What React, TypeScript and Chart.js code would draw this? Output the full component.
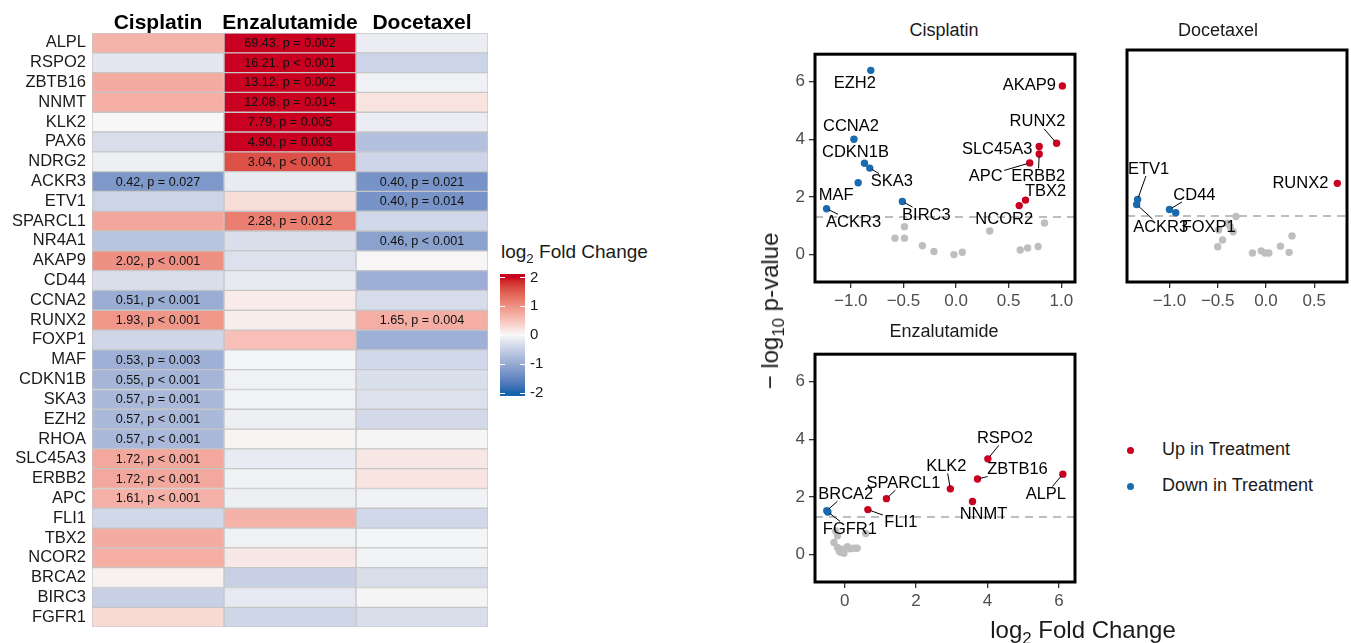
import React, { useEffect, useRef } from "react";
import { Chart, registerables } from "chart.js";

Chart.register(...registerables);

const FONT = "'Liberation Sans', Arial, Helvetica, sans-serif";

// ---------------- Heatmap data ----------------
const genes = ["ALPL", "RSPO2", "ZBTB16", "NNMT", "KLK2", "PAX6", "NDRG2", "ACKR3", "ETV1", "SPARCL1", "NR4A1", "AKAP9", "CD44", "CCNA2", "RUNX2", "FOXP1", "MAF", "CDKN1B", "SKA3", "EZH2", "RHOA", "SLC45A3", "ERBB2", "APC", "FLI1", "TBX2", "NCOR2", "BRCA2", "BIRC3", "FGFR1"];
const treatments = ["Cisplatin", "Enzalutamide", "Docetaxel"];
const cisplatinLog2FC = [0.66, -0.2, 0.75, 0.72, 0.0, -0.32, -0.1, -1.25, -0.45, 0.8, -0.65, 1.01, -0.3, -0.97, 0.95, -0.42, -0.92, -0.86, -0.81, -0.81, -0.81, 0.78, 0.78, 0.69, -0.4, 0.74, 0.72, 0.06, -0.5, 0.3];
const enzalutamideLog2FC = [6.12, 4.02, 3.71, 3.59, 2.96, 2.29, 1.6, -0.15, 0.25, 1.19, -0.3, -0.28, -0.17, 0.12, 0.1, 0.55, -0.03, -0.08, -0.05, -0.1, 0.03, -0.15, -0.08, -0.1, 0.68, -0.08, 0.15, -0.5, -0.18, -0.42];
const docetaxelLog2FC = [-0.13, -0.45, -0.08, 0.2, -0.13, -0.7, -0.43, -1.32, -1.32, -0.4, -1.12, 0.02, -0.95, -0.35, 0.72, -0.93, -0.4, -0.3, -0.28, -0.38, -0.02, 0.15, 0.18, -0.06, -0.4, -0.03, -0.05, -0.32, -0.02, -0.32];
const cisplatinCellText = ["", "", "", "", "", "", "", "0.42, p = 0.027", "", "", "", "2.02, p < 0.001", "", "0.51, p < 0.001", "1.93, p < 0.001", "", "0.53, p = 0.003", "0.55, p < 0.001", "0.57, p = 0.001", "0.57, p < 0.001", "0.57, p < 0.001", "1.72, p < 0.001", "1.72, p < 0.001", "1.61, p < 0.001", "", "", "", "", "", ""];
const enzalutamideCellText = ["69.43, p = 0.002", "16.21, p < 0.001", "13.12, p = 0.002", "12.08, p = 0.014", "7.79, p = 0.005", "4.90, p = 0.003", "3.04, p < 0.001", "", "", "2.28, p = 0.012", "", "", "", "", "", "", "", "", "", "", "", "", "", "", "", "", "", "", "", ""];
const docetaxelCellText = ["", "", "", "", "", "", "", "0.40, p = 0.021", "0.40, p = 0.014", "", "0.46, p < 0.001", "", "", "", "1.65, p = 0.004", "", "", "", "", "", "", "", "", "", "", "", "", "", "", ""];
const colorbarTicks = [2, 1, 0, -1, -2];
const colorbarTickLabels = ["2", "1", "0", "-1", "-2"];
const colorbarRange = [-2.12, 2.12];

// ---------------- Volcano data ----------------
const significanceLine = 1.3;
const volcanoYTicks = [0, 2, 4, 6];
const volcanoYTickLabels = ["0", "2", "4", "6"];

const cisplatinGenes = ["EZH2", "AKAP9", "RUNX2", "SLC45A3", "ERBB2", "APC", "TBX2", "NCOR2", "CCNA2", "CDKN1B", "SKA3", "MAF", "ACKR3", "BIRC3", "", "", "", "", "", "", "", "", "", "", "", ""];
const cisplatinFC = [-0.81, 1.01, 0.955, 0.79, 0.79, 0.7, 0.66, 0.6, -0.97, -0.87, -0.82, -0.93, -1.23, -0.51, -0.49, -0.58, -0.49, -0.32, -0.21, -0.02, 0.06, 0.32, 0.61, 0.68, 0.78, 0.84];
const cisplatinNegLog10P = [6.39, 5.85, 3.86, 3.75, 3.49, 3.18, 1.89, 1.7, 4.0, 3.17, 3.0, 2.49, 1.59, 1.84, 0.97, 0.57, 0.57, 0.31, 0.11, 0.0, 0.08, 0.82, 0.16, 0.23, 0.28, 1.1];
const cisplatinXTicks = [-1, -0.5, 0, 0.5, 1];
const cisplatinXTickLabels = ["\u22121.0", "\u22120.5", "0.0", "0.5", "1.0"];

const docetaxelGenes = ["RUNX2", "ETV1", "ACKR3", "CD44", "FOXP1", "", "", "", "", "", "", "", "", "", "", "", "", "", ""];
const docetaxelFC = [0.74, -1.33, -1.34, -1.0, -0.935, -0.31, -0.37, -0.4, -0.34, -0.49, -0.45, -0.5, -0.14, -0.05, -0.01, 0.03, 0.15, 0.24, 0.27];
const docetaxelNegLog10P = [2.41, 1.86, 1.69, 1.52, 1.41, 1.28, 0.93, 1.05, 0.76, 0.82, 0.48, 0.25, 0.04, 0.11, 0.04, 0.04, 0.27, 0.06, 0.62];
const docetaxelXTicks = [-1, -0.5, 0, 0.5];
const docetaxelXTickLabels = ["\u22121.0", "\u22120.5", "0.0", "0.5"];

const enzalutamideGenes = ["RSPO2", "ZBTB16", "ALPL", "KLK2", "NNMT", "SPARCL1", "FLI1", "BRCA2", "FGFR1", "", "", "", "", "", "", "", "", "", "", "", "", ""];
const enzalutamideFC = [4.01, 3.72, 6.11, 2.96, 3.58, 1.17, 0.65, -0.5, -0.47, -0.25, -0.2, -0.3, -0.2, -0.06, 0.08, 0.26, 0.35, 0.59, -0.11, -0.02, -0.15, 0.15];
const enzalutamideNegLog10P = [3.32, 2.62, 2.79, 2.28, 1.84, 1.94, 1.56, 1.52, 1.48, 0.82, 0.65, 0.42, 0.25, 0.19, 0.27, 0.22, 0.22, 0.73, 0.08, 0.05, 0.12, 0.2];
const enzalutamideXTicks = [0, 2, 4, 6];
const enzalutamideXTickLabels = ["0", "2", "4", "6"];

// ---------------- styles (label placement, colours) ----------------
const cisplatinLabelOffsets = [[-16, 13, 0], [-33, -1, 0], [-19, -22, 1], [-42, 2, 0], [-1, 22, 1], [-44, 13, 1], [20, -9, 0], [-15, 13, 0], [-3, -13, 0], [-9, -11, 0], [22, 13, 1], [-22, 12, 0], [27, 13, 1], [24, 13, 1]];
const docetaxelLabelOffsets = [[-37, 0, 0], [11, -31, 1], [24, 22, 1], [25, -15, 1], [33, 14, 0]];
const enzalutamideLabelOffsets = [[17, -21, 1], [40, -10, 1], [-17, 20, 1], [-4, -23, 1], [11, 12, 0], [17, -16, 1], [33, 12, 1], [19, -17, 1], [22, 17, 1]];

const UP_COLOR = "#CA0020";
const DOWN_COLOR = "#1A6AAF";
const NS_COLOR = "#BEBEBE";
const LOW_FILL = "#1565AE";
const MID_FILL = "#F7F7F7";
const HIGH_FILL = "#CA0020";

// ---------------- colour helpers (Lab interpolation) ----------------
function hexToRgb(h: string) {
  const n = parseInt(h.slice(1), 16);
  return [(n >> 16) & 255, (n >> 8) & 255, n & 255];
}
function toLin(c: number) {
  c /= 255;
  return c <= 0.04045 ? c / 12.92 : Math.pow((c + 0.055) / 1.055, 2.4);
}
function fromLin(c: number) {
  const v = c <= 0.0031308 ? 12.92 * c : 1.055 * Math.pow(c, 1 / 2.4) - 0.055;
  return Math.round(Math.max(0, Math.min(1, v)) * 255);
}
function rgbToLab(rgb: number[]) {
  const [r, g, b] = rgb.map(toLin);
  const X = (0.4124 * r + 0.3576 * g + 0.1805 * b) / 0.95047;
  const Y = 0.2126 * r + 0.7152 * g + 0.0722 * b;
  const Z = (0.0193 * r + 0.1192 * g + 0.9505 * b) / 1.08883;
  const f = (t: number) => (t > 0.008856 ? Math.cbrt(t) : 7.787 * t + 16 / 116);
  const fx = f(X), fy = f(Y), fz = f(Z);
  return [116 * fy - 16, 500 * (fx - fy), 200 * (fy - fz)];
}
function labToRgb(lab: number[]) {
  const [L, a, b] = lab;
  const fy = (L + 16) / 116, fx = fy + a / 500, fz = fy - b / 200;
  const inv = (t: number) => (t * t * t > 0.008856 ? t * t * t : (t - 16 / 116) / 7.787);
  const X = inv(fx) * 0.95047, Y = inv(fy), Z = inv(fz) * 1.08883;
  const r = 3.2406 * X - 1.5372 * Y - 0.4986 * Z;
  const g = -0.9689 * X + 1.8758 * Y + 0.0415 * Z;
  const bb = 0.0557 * X - 0.204 * Y + 1.057 * Z;
  return [fromLin(r), fromLin(g), fromLin(bb)];
}
const LAB_LOW = rgbToLab(hexToRgb(LOW_FILL));
const LAB_MID = rgbToLab(hexToRgb(MID_FILL));
const LAB_HIGH = rgbToLab(hexToRgb(HIGH_FILL));
function fillColor(v: number) {
  const t = Math.max(-2, Math.min(2, v)) / 2;
  const end = t < 0 ? LAB_LOW : LAB_HIGH;
  const f = Math.abs(t);
  const lab = LAB_MID.map((m, i) => m + (end[i] - m) * f);
  const [r, g, b] = labToRgb(lab);
  return `rgb(${r},${g},${b})`;
}

// ---------------- charts ----------------
function makeHeatmap(canvas: HTMLCanvasElement) {
  const values = [cisplatinLog2FC, enzalutamideLog2FC, docetaxelLog2FC];
  const texts = [cisplatinCellText, enzalutamideCellText, docetaxelCellText];
  const cellText = {
    id: "cellText",
    afterDatasetsDraw(chart: any) {
      const ctx = chart.ctx;
      ctx.save();
      ctx.font = `12.6px ${FONT}`;
      ctx.fillStyle = "#111";
      ctx.textAlign = "center";
      ctx.textBaseline = "middle";
      texts.forEach((col, j) => {
        const meta = chart.getDatasetMeta(j);
        meta.data.forEach((el: any, i: number) => {
          if (!col[i]) return;
          const p = el.getProps(["x", "y", "base"], true);
          ctx.fillText(col[i], (p.x + p.base) / 2, p.y + 0.5);
        });
      });
      ctx.restore();
    },
  };
  return new Chart(canvas, {
    type: "bar",
    data: {
      labels: genes,
      datasets: values.map((vals, j) => ({
        label: treatments[j],
        data: genes.map(() => [j, j + 1]),
        backgroundColor: vals.map(fillColor),
        borderColor: "#C6C6C6",
        borderWidth: 1,
        borderSkipped: false,
        barPercentage: 1,
        categoryPercentage: 1,
        grouped: false,
      })),
    } as any,
    options: {
      indexAxis: "y",
      animation: false,
      responsive: false,
      events: [],
      layout: { padding: { left: 0, right: 12, top: 0, bottom: 15 } },
      plugins: { legend: { display: false }, tooltip: { enabled: false } },
      scales: {
        y: {
          type: "category",
          position: "left",
          grid: { display: false, drawTicks: false, tickLength: 0 },
          border: { display: false },
          ticks: { font: { family: FONT, size: 16.5 }, color: "#1a1a1a", padding: 6, autoSkip: false },
          afterFit: (s: any) => { s.width = 92; },
        },
        x: {
          type: "linear",
          position: "top",
          min: 0,
          max: 3,
          grid: { display: false, drawTicks: false, tickLength: 0 },
          border: { display: false },
          afterBuildTicks: (s: any) => { s.ticks = treatments.map((_, i) => ({ value: i + 0.5 })); },
          ticks: {
            callback: (_v: any, i: number) => treatments[i],
            font: { family: FONT, size: 21, weight: "bold" },
            color: "#000",
            padding: -3,
            maxRotation: 0,
            autoSkip: false,
          },
          afterFit: (s: any) => { s.height = 33; },
        },
      },
    } as any,
    plugins: [cellText],
  });
}

function makeColorbar(canvas: HTMLCanvasElement) {
  const tickMarks = {
    id: "cbTicks",
    afterDatasetsDraw(chart: any) {
      const ctx = chart.ctx, ca = chart.chartArea, y = chart.scales.y;
      ctx.save();
      ctx.strokeStyle = "#fff";
      ctx.lineWidth = 1.2;
      colorbarTicks.forEach((v) => {
        const py = Math.round(y.getPixelForValue(v)) + 0.5;
        ctx.beginPath();
        ctx.moveTo(ca.left, py); ctx.lineTo(ca.left + 5, py);
        ctx.moveTo(ca.right - 5, py); ctx.lineTo(ca.right, py);
        ctx.stroke();
      });
      ctx.restore();
    },
  };
  return new Chart(canvas, {
    type: "bar",
    data: {
      labels: [""],
      datasets: [{
        data: [colorbarRange],
        barPercentage: 1,
        categoryPercentage: 1,
        borderWidth: 0,
        backgroundColor: (c: any) => {
          const chart = c.chart;
          if (!chart.chartArea) return MID_FILL;
          const y = chart.scales.y;
          const y0 = y.getPixelForValue(-2), y1 = y.getPixelForValue(2);
          const g = chart.ctx.createLinearGradient(0, y0, 0, y1);
          for (let k = 0; k <= 40; k++) g.addColorStop(k / 40, fillColor(-2 + (4 * k) / 40));
          return g;
        },
      }],
    } as any,
    options: {
      animation: false,
      responsive: false,
      events: [],
      layout: { padding: { left: 10, right: 0, top: 13, bottom: 13 } },
      plugins: { legend: { display: false }, tooltip: { enabled: false } },
      scales: {
        x: { display: false },
        y: {
          position: "right",
          min: colorbarRange[0],
          max: colorbarRange[1],
          grid: { display: false, drawTicks: false, tickLength: 0 },
          border: { display: false },
          afterBuildTicks: (s: any) => { s.ticks = colorbarTicks.map((v) => ({ value: v })); },
          ticks: {
            callback: (_v: any, i: number) => colorbarTickLabels[i],
            font: { family: FONT, size: 15 },
            color: "#1a1a1a",
            padding: 5,
          },
          afterFit: (s: any) => { s.width = 45; },
        },
      },
    } as any,
    plugins: [tickMarks],
  });
}

type VolcanoSpec = {
  genes: string[];
  fc: number[];
  nlp: number[];
  offsets: number[][];
  xMin: number;
  xMax: number;
  xTicks: number[];
  xTickLabels: string[];
  showY: boolean;
  padding: any;
};

function makeVolcano(canvas: HTMLCanvasElement, p: VolcanoSpec) {
  const up: any[] = [], down: any[] = [], ns: any[] = [];
  p.fc.forEach((x, i) => {
    const y = p.nlp[i];
    const pt = { x, y };
    if (y > significanceLine && x > 0) up.push(pt);
    else if (y > significanceLine && x < 0) down.push(pt);
    else ns.push(pt);
  });
  const deco = {
    id: "volcanoDeco",
    afterDatasetsDraw(chart: any) {
      const ctx = chart.ctx, xs = chart.scales.x, ys = chart.scales.y;
      ctx.save();
      ctx.font = `16.5px ${FONT}`;
      ctx.textAlign = "center";
      ctx.textBaseline = "middle";
      p.genes.forEach((g, i) => {
        if (!g) return;
        const off = p.offsets[i];
        const px = xs.getPixelForValue(p.fc[i]);
        const py = ys.getPixelForValue(p.nlp[i]);
        const cx = px + off[0], cy = py + off[1];
        if (off[2]) {
          const hw = ctx.measureText(g).width / 2 + 1.5, hh = 7.5;
          const dx = px - cx, dy = py - cy;
          const t = Math.min(dx ? hw / Math.abs(dx) : Infinity, dy ? hh / Math.abs(dy) : Infinity);
          if (t < 1) {
            const sx = cx + dx * t, sy = cy + dy * t;
            const len = Math.hypot(px - sx, py - sy);
            if (len > 5) {
              const ux = (px - sx) / len, uy = (py - sy) / len;
              ctx.strokeStyle = "#000";
              ctx.lineWidth = 1;
              ctx.beginPath();
              ctx.moveTo(sx, sy);
              ctx.lineTo(px - ux * 2.5, py - uy * 2.5);
              ctx.stroke();
            }
          }
        }
        ctx.fillStyle = "#000";
        ctx.fillText(g, cx, cy + 0.5);
      });
      ctx.restore();
    },
    afterDraw(chart: any) {
      const ctx = chart.ctx, ca = chart.chartArea;
      ctx.save();
      ctx.strokeStyle = "#000";
      ctx.lineWidth = 3;
      ctx.strokeRect(ca.left, ca.top, ca.right - ca.left, ca.bottom - ca.top);
      ctx.restore();
    },
  };
  const pointDs = (data: any[], color: string) => ({
    data,
    backgroundColor: color,
    borderColor: color,
    borderWidth: 0,
    pointRadius: 3.7,
  });
  return new Chart(canvas, {
    type: "scatter",
    data: {
      datasets: [
        pointDs(up, UP_COLOR),
        pointDs(down, DOWN_COLOR),
        pointDs(ns, NS_COLOR),
        {
          data: [{ x: p.xMin, y: significanceLine }, { x: p.xMax, y: significanceLine }],
          showLine: true,
          borderColor: "#BDBDBD",
          borderWidth: 2,
          borderDash: [8, 6],
          pointRadius: 0,
        },
      ],
    } as any,
    options: {
      animation: false,
      responsive: false,
      events: [],
      layout: { padding: p.padding },
      plugins: { legend: { display: false }, tooltip: { enabled: false } },
      scales: {
        x: {
          type: "linear",
          min: p.xMin,
          max: p.xMax,
          grid: { display: true, drawOnChartArea: false, drawTicks: true, tickLength: 6, color: "#333", lineWidth: 1.3 },
          border: { display: false },
          afterBuildTicks: (s: any) => { s.ticks = p.xTicks.map((v) => ({ value: v })); },
          ticks: {
            callback: (_v: any, i: number) => p.xTickLabels[i],
            font: { family: FONT, size: 17 },
            color: "#4D4D4D",
            padding: 3,
            maxRotation: 0,
            autoSkip: false,
          },
          afterFit: (s: any) => { s.height = 30; },
        },
        y: {
          type: "linear",
          display: p.showY,
          min: -0.95,
          max: 6.95,
          grid: { display: true, drawOnChartArea: false, drawTicks: true, tickLength: 6, color: "#333", lineWidth: 1.3 },
          border: { display: false },
          afterBuildTicks: (s: any) => { s.ticks = volcanoYTicks.map((v) => ({ value: v })); },
          ticks: {
            callback: (_v: any, i: number) => volcanoYTickLabels[i],
            font: { family: FONT, size: 17 },
            color: "#4D4D4D",
            padding: 4,
            autoSkip: false,
          },
          afterFit: (s: any) => { s.width = 40; },
        },
      },
    } as any,
    plugins: [deco],
  });
}

const abs = (l: number, t: number, w?: number, h?: number): React.CSSProperties => ({
  position: "absolute",
  left: l,
  top: t,
  ...(w !== undefined ? { width: w } : {}),
  ...(h !== undefined ? { height: h } : {}),
});

const centered = (x: number, y: number, size: number, extra: React.CSSProperties = {}): React.CSSProperties => ({
  position: "absolute",
  left: x,
  top: y,
  transform: "translate(-50%, -50%)",
  fontSize: size,
  lineHeight: "1",
  whiteSpace: "nowrap",
  ...extra,
});

const subStyle: React.CSSProperties = { fontSize: "0.7em", position: "relative", top: "0.35em", lineHeight: 0 };

export default function App() {
  const heatRef = useRef<HTMLCanvasElement>(null);
  const cbRef = useRef<HTMLCanvasElement>(null);
  const cisRef = useRef<HTMLCanvasElement>(null);
  const docRef = useRef<HTMLCanvasElement>(null);
  const enzRef = useRef<HTMLCanvasElement>(null);

  useEffect(() => {
    const charts: Chart[] = [];
    charts.push(makeHeatmap(heatRef.current!));
    charts.push(makeColorbar(cbRef.current!));
    charts.push(makeVolcano(cisRef.current!, {
      genes: cisplatinGenes, fc: cisplatinFC, nlp: cisplatinNegLog10P, offsets: cisplatinLabelOffsets,
      xMin: -1.34, xMax: 1.13, xTicks: cisplatinXTicks, xTickLabels: cisplatinXTickLabels, showY: true,
      padding: { left: 0, right: 10, top: 10, bottom: 8 },
    }));
    charts.push(makeVolcano(docRef.current!, {
      genes: docetaxelGenes, fc: docetaxelFC, nlp: docetaxelNegLog10P, offsets: docetaxelLabelOffsets,
      xMin: -1.44, xMax: 0.84, xTicks: docetaxelXTicks, xTickLabels: docetaxelXTickLabels, showY: false,
      padding: { left: 7, right: 4, top: 10, bottom: 8 },
    }));
    charts.push(makeVolcano(enzRef.current!, {
      genes: enzalutamideGenes, fc: enzalutamideFC, nlp: enzalutamideNegLog10P, offsets: enzalutamideLabelOffsets,
      xMin: -0.83, xMax: 6.45, xTicks: enzalutamideXTicks, xTickLabels: enzalutamideXTickLabels, showY: true,
      padding: { left: 0, right: 10, top: 10, bottom: 8 },
    }));
    return () => charts.forEach((c) => c.destroy());
  }, []);

  return (
    <div style={{ position: "fixed", left: 0, top: 0, width: 1351, height: 643, background: "#fff", overflow: "hidden", fontFamily: FONT, color: "#1a1a1a" }}>
      <canvas ref={heatRef} width={500} height={643} style={abs(0, 0, 500, 643)} />
      <div style={{ ...abs(501, 242), fontSize: 19, lineHeight: "19px", whiteSpace: "nowrap" }}>
        log<span style={subStyle}>2</span> Fold Change
      </div>
      <canvas ref={cbRef} width={80} height={150} style={abs(490, 260, 80, 150)} />

      <canvas ref={cisRef} width={310} height={280} style={abs(775, 40, 310, 280)} />
      <canvas ref={docRef} width={271} height={280} style={abs(1080, 40, 271, 280)} />
      <canvas ref={enzRef} width={310} height={280} style={abs(775, 340, 310, 280)} />

      <div style={centered(944, 30, 18)}>Cisplatin</div>
      <div style={centered(1218, 30, 18)}>Docetaxel</div>
      <div style={centered(944, 331, 18)}>Enzalutamide</div>

      <div style={centered(770, 311, 24, { transform: "translate(-50%, -50%) rotate(-90deg)" })}>
        {"\u2212 log"}<span style={subStyle}>10</span>{" p-value"}
      </div>
      <div style={centered(1083, 630, 24)}>
        log<span style={subStyle}>2</span> Fold Change
      </div>

      <div style={{ ...abs(1127, 447, 7.4, 7.4), borderRadius: "50%", background: UP_COLOR }} />
      <div style={{ ...abs(1162, 440), fontSize: 18, lineHeight: "18px", whiteSpace: "nowrap" }}>Up in Treatment</div>
      <div style={{ ...abs(1127, 483, 7.4, 7.4), borderRadius: "50%", background: DOWN_COLOR }} />
      <div style={{ ...abs(1162, 476), fontSize: 18, lineHeight: "18px", whiteSpace: "nowrap" }}>Down in Treatment</div>
    </div>
  );
}
